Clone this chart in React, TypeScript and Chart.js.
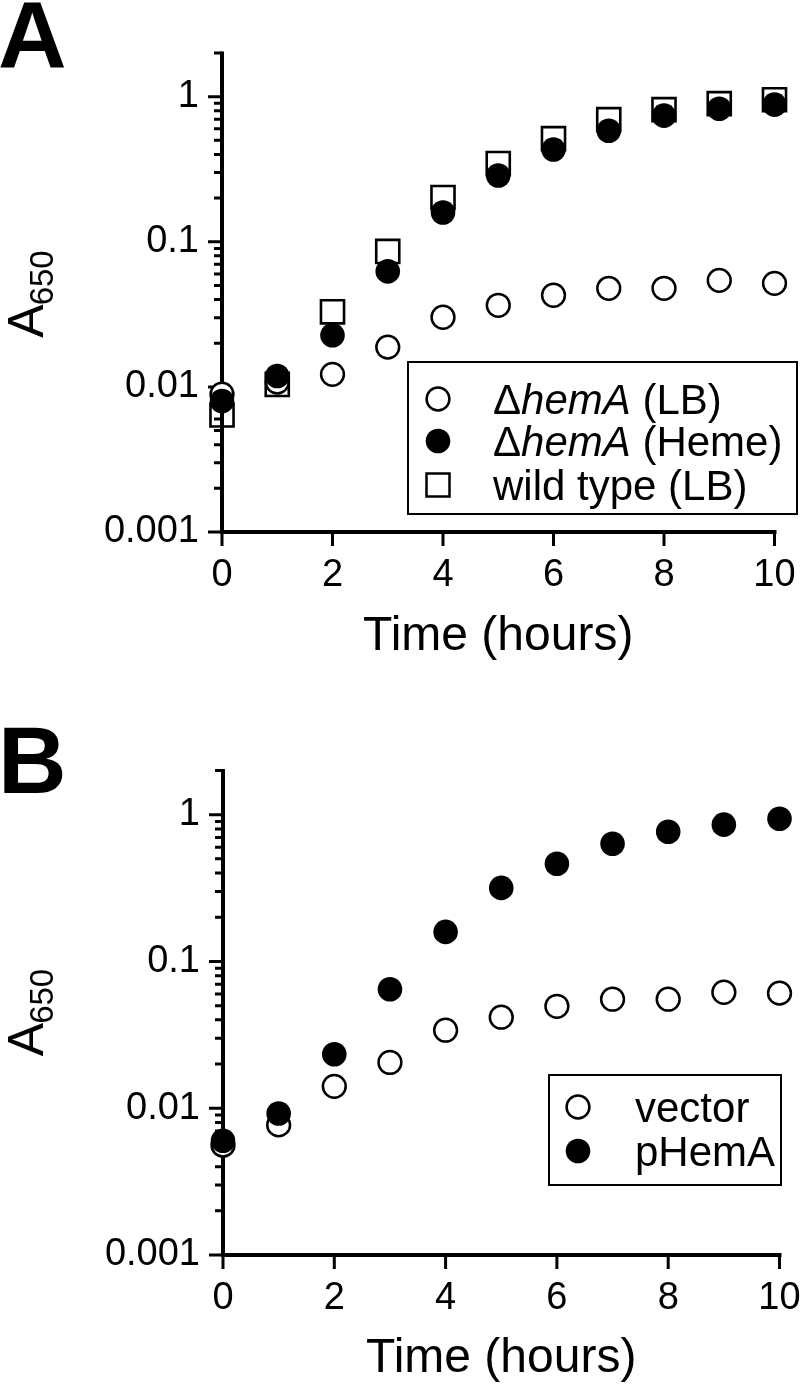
import React, { useEffect, useRef } from 'react';
import { Chart, registerables } from 'chart.js';

Chart.register(...registerables);

const FONT = '"Liberation Sans", Arial, Helvetica, sans-serif';

// ---------------- data ----------------
const timeHours = [0, 1, 2, 3, 4, 5, 6, 7, 8, 9, 10];

// Panel A
const hemA_LB = [0.0089, 0.0108, 0.0122, 0.0188, 0.0302, 0.0365, 0.0428, 0.0478, 0.0478, 0.0542, 0.0517];
const hemA_Heme = [0.008, 0.0119, 0.0227, 0.0625, 0.159, 0.286, 0.432, 0.583, 0.74, 0.826, 0.881];
const wildType_LB = [0.0064, 0.0104, 0.0329, 0.0858, 0.202, 0.346, 0.514, 0.695, 0.814, 0.895, 0.953];

// Panel B
const vector = [0.0056, 0.0077, 0.0141, 0.0205, 0.034, 0.0417, 0.0495, 0.0553, 0.0553, 0.0617, 0.0608];
const pHemA = [0.006, 0.0092, 0.0233, 0.0647, 0.159, 0.317, 0.463, 0.634, 0.765, 0.855, 0.939];

// axes
const xMin = 0;
const xMax = 10;
const xStep = 2;
const yMin = 0.001;
const yMax = 2;
const yTickValues = [0.001, 0.01, 0.1, 1];
const yTickLabels = ['0.001', '0.01', '0.1', '1'];
const xTitle = 'Time (hours)';
const yTitleMain = 'A';
const yTitleSub = '650';

// legend labels (parts: text, italic)
type Part = { t: string; i: boolean };
const legendA_hemA_LB: Part[] = [{ t: '\u0394', i: false }, { t: 'hemA', i: true }, { t: ' (LB)', i: false }];
const legendA_hemA_Heme: Part[] = [{ t: '\u0394', i: false }, { t: 'hemA', i: true }, { t: ' (Heme)', i: false }];
const legendA_wildType: Part[] = [{ t: 'wild type (LB)', i: false }];
const legendB_vector: Part[] = [{ t: 'vector', i: false }];
const legendB_pHemA: Part[] = [{ t: 'pHemA', i: false }];

// ---------------- layout / style ----------------
type Kind = 'open' | 'filled' | 'square';
type Series = { label: Part[]; values: number[]; kind: Kind; order: number };
type Layout = {
  top: number;
  height: number;
  left: number;
  right: number;
  areaTop: number;
  areaBottom: number;
  letterBaseline: number;
  legendBox: [number, number, number, number];
  legendSymbolX: number;
  legendTextX: number;
  legendRows: number[];
  xTitleBaseline: number;
  yTitleX: number;
  yTitleCY: number;
};

const layoutA: Layout = {
  top: 0,
  height: 692,
  left: 222,
  right: 774.5,
  areaTop: 53,
  areaBottom: 532,
  letterBaseline: 68,
  legendBox: [408, 362, 797, 514],
  legendSymbolX: 438,
  legendTextX: 493,
  legendRows: [399, 441, 485],
  xTitleBaseline: 650,
  yTitleX: 43,
  yTitleCY: 293.5,
};

const layoutB: Layout = {
  top: 692,
  height: 693,
  left: 223,
  right: 779.5,
  areaTop: 78.5,
  areaBottom: 563,
  letterBaseline: 101,
  legendBox: [549, 383, 781, 493],
  legendSymbolX: 578,
  legendTextX: 635,
  legendRows: [415, 459],
  xTitleBaseline: 680,
  yTitleX: 43,
  yTitleCY: 320,
};

const TICK_FONT = 38;
const LEGEND_FONT = 42;

function isPow10(v: number) {
  const l = Math.log10(v);
  return Math.abs(l - Math.round(l)) < 1e-6;
}
function isIntSignificand(v: number) {
  const m = v / Math.pow(10, Math.floor(Math.log10(v) + 1e-9));
  return Math.abs(m - Math.round(m)) < 1e-6;
}

function pointStyleFor(kind: Kind) {
  if (kind === 'filled') {
    return { pointStyle: 'circle', pointRadius: 12.3, pointBorderWidth: 0, pointBackgroundColor: '#000', pointBorderColor: '#000' };
  }
  if (kind === 'open') {
    return { pointStyle: 'circle', pointRadius: 11.4, pointBorderWidth: 2.5, pointBackgroundColor: '#fff', pointBorderColor: '#000' };
  }
  return { pointStyle: 'rect', pointRadius: 16.3, pointBorderWidth: 2.6, pointBackgroundColor: 'rgba(0,0,0,0)', pointBorderColor: '#000' };
}

function drawSymbol(ctx: CanvasRenderingContext2D, kind: Kind, x: number, y: number) {
  ctx.save();
  ctx.strokeStyle = '#000';
  ctx.fillStyle = '#000';
  ctx.lineWidth = 2.5;
  ctx.beginPath();
  if (kind === 'filled') {
    ctx.arc(x, y, 12.3, 0, Math.PI * 2);
    ctx.fill();
  } else if (kind === 'open') {
    ctx.arc(x, y, 11.4, 0, Math.PI * 2);
    ctx.fillStyle = '#fff';
    ctx.fill();
    ctx.stroke();
  } else {
    ctx.rect(x - 11.5, y - 11.5, 23, 23);
    ctx.stroke();
  }
  ctx.restore();
}

function Panel({ letter, series, layout }: { letter: string; series: Series[]; layout: Layout }) {
  const ref = useRef<HTMLCanvasElement>(null);

  useEffect(() => {
    const canvas = ref.current!;
    const L = layout;

    const decor = {
      id: 'decor',
      beforeDatasetsDraw(chart: any) {
        const ctx: CanvasRenderingContext2D = chart.ctx;
        const xs = chart.scales.x;
        const ys = chart.scales.y;
        const ax = xs.getPixelForValue(xMin);
        const ay = ys.getPixelForValue(yMin);
        const yTop = ys.getPixelForValue(yMax);
        const xRight = xs.getPixelForValue(xMax);
        ctx.save();
        ctx.strokeStyle = '#000';
        ctx.lineCap = 'butt';
        ctx.lineWidth = 4;
        ctx.beginPath();
        ctx.moveTo(ax, yTop - 1.5);
        ctx.lineTo(ax, ay + 2);
        ctx.moveTo(ax - 2, ay);
        ctx.lineTo(xRight + 2, ay);
        ctx.stroke();
        ctx.lineWidth = 3;
        ctx.beginPath();
        for (const t of ys.ticks) {
          const p = ys.getPixelForValue(t.value);
          const len = isPow10(t.value) ? 14 : 8;
          ctx.moveTo(ax - len, p);
          ctx.lineTo(ax, p);
        }
        for (const t of xs.ticks) {
          const p = xs.getPixelForValue(t.value);
          ctx.moveTo(p, ay);
          ctx.lineTo(p, ay + 14);
        }
        ctx.stroke();
        ctx.restore();
      },
      afterDraw(chart: any) {
        const ctx: CanvasRenderingContext2D = chart.ctx;
        const area = chart.chartArea;
        ctx.save();
        ctx.fillStyle = '#000';
        ctx.textBaseline = 'alphabetic';

        // panel letter
        ctx.font = `bold 95px ${FONT}`;
        ctx.textAlign = 'left';
        ctx.fillText(letter, -2, L.letterBaseline);

        // x title
        ctx.font = `48px ${FONT}`;
        ctx.textAlign = 'center';
        ctx.fillText(xTitle, (area.left + area.right) / 2, L.xTitleBaseline);

        // y title (rotated, with subscript)
        ctx.save();
        ctx.translate(L.yTitleX, L.yTitleCY);
        ctx.rotate(-Math.PI / 2);
        ctx.textAlign = 'left';
        ctx.font = `50px ${FONT}`;
        const wMain = ctx.measureText(yTitleMain).width;
        ctx.font = `33px ${FONT}`;
        const wSub = ctx.measureText(yTitleSub).width;
        const x0 = -(wMain + wSub) / 2;
        ctx.font = `50px ${FONT}`;
        ctx.fillText(yTitleMain, x0, 0);
        ctx.font = `33px ${FONT}`;
        ctx.fillText(yTitleSub, x0 + wMain - 1, 10);
        ctx.restore();

        // legend
        const [bx1, by1, bx2, by2] = L.legendBox;
        ctx.lineWidth = 2;
        ctx.strokeStyle = '#000';
        ctx.strokeRect(bx1, by1, bx2 - bx1, by2 - by1);
        series.forEach((s, idx) => {
          const ry = L.legendRows[idx];
          drawSymbol(ctx, s.kind, L.legendSymbolX, ry);
          let tx = L.legendTextX;
          ctx.textAlign = 'left';
          for (const part of s.label) {
            ctx.font = `${part.i ? 'italic ' : ''}${LEGEND_FONT}px ${FONT}`;
            ctx.fillText(part.t, tx, ry + LEGEND_FONT * 0.358);
            tx += ctx.measureText(part.t).width;
          }
        });
        ctx.restore();
      },
    };

    const datasets = series.map((s) => ({
      label: s.label.map((p) => p.t).join(''),
      data: timeHours.map((t, i) => ({ x: t, y: s.values[i] })),
      showLine: false,
      clip: false as any,
      order: s.order,
      ...pointStyleFor(s.kind),
      pointHoverRadius: pointStyleFor(s.kind).pointRadius,
    }));

    const chart = new Chart(canvas, {
      type: 'scatter',
      data: { datasets: datasets as any },
      options: {
        animation: false,
        responsive: true,
        maintainAspectRatio: false,
        events: [],
        layout: { padding: { left: 0, top: L.areaTop, right: 800 - L.right, bottom: 0 } },
        plugins: { legend: { display: false }, tooltip: { enabled: false }, title: { display: false } },
        scales: {
          x: {
            type: 'linear',
            min: xMin,
            max: xMax,
            grid: { display: false, drawTicks: false },
            border: { display: false },
            ticks: {
              stepSize: xStep,
              color: '#000',
              padding: 21,
              maxRotation: 0,
              autoSkip: false,
              font: { size: TICK_FONT, family: FONT },
            },
            afterFit(scale: any) {
              scale.height = L.height - L.areaBottom;
              scale.paddingLeft = 0;
              scale.paddingRight = 0;
              scale.paddingTop = 0;
              scale.paddingBottom = 0;
            },
          },
          y: {
            type: 'logarithmic',
            min: yMin,
            max: yMax,
            grid: { display: false, drawTicks: false },
            border: { display: false },
            afterBuildTicks(scale: any) {
              scale.ticks = scale.ticks.filter((t: any) => isIntSignificand(t.value));
            },
            ticks: {
              color: '#000',
              padding: 23,
              autoSkip: false,
              font: { size: TICK_FONT, family: FONT },
              callback: (v: any) => {
                const idx = yTickValues.findIndex((tv) => Math.abs(Math.log10(Number(v) / tv)) < 1e-6);
                return idx >= 0 ? yTickLabels[idx] : '';
              },
            },
            afterFit(scale: any) {
              scale.width = L.left;
              scale.paddingLeft = 0;
              scale.paddingRight = 0;
              scale.paddingTop = 0;
              scale.paddingBottom = 0;
            },
          },
        },
      },
      plugins: [decor],
    });

    return () => chart.destroy();
  }, []);

  return (
    <div style={{ position: 'absolute', left: 0, top: layout.top, width: 800, height: layout.height }}>
      <canvas ref={ref} style={{ display: 'block' }} />
    </div>
  );
}

const seriesA: Series[] = [
  { label: legendA_hemA_LB, values: hemA_LB, kind: 'open', order: 1 },
  { label: legendA_hemA_Heme, values: hemA_Heme, kind: 'filled', order: 0 },
  { label: legendA_wildType, values: wildType_LB, kind: 'square', order: 2 },
];

const seriesB: Series[] = [
  { label: legendB_vector, values: vector, kind: 'open', order: 1 },
  { label: legendB_pHemA, values: pHemA, kind: 'filled', order: 0 },
];

export default function App() {
  return (
    <div style={{ position: 'absolute', left: 0, top: 0, width: 800, height: 1385, background: '#fff' }}>
      <Panel letter="A" series={seriesA} layout={layoutA} />
      <Panel letter="B" series={seriesB} layout={layoutB} />
    </div>
  );
}
